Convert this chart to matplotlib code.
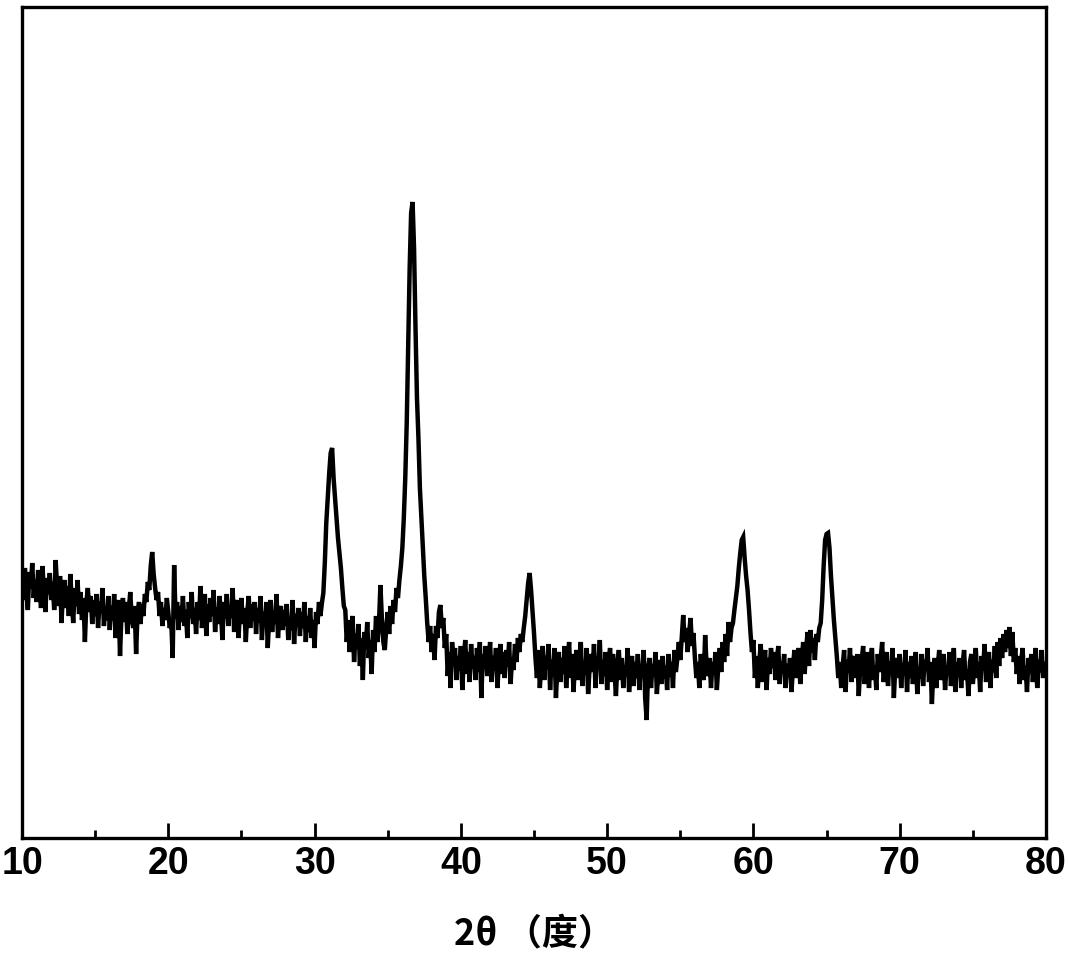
import numpy as np
import matplotlib
matplotlib.use('Agg')
import matplotlib.pyplot as plt
from matplotlib.ticker import MultipleLocator

# XRD pattern, 0.1 degree steps from 10 to 80
two_theta_start = 10.0
two_theta_step = 0.1
intensity = [
    262, 238, 270, 245, 228, 266, 250, 275, 240, 258,   # 10
    236, 268, 252, 230, 272, 246, 226, 260, 244, 265,   # 11
    238, 256, 228, 278, 250, 232, 262, 215, 246, 258,   # 12
    230, 252, 222, 264, 238, 215, 250, 232, 258, 224,   # 13
    246, 218, 240, 196, 236, 250, 226, 242, 214, 238,   # 14
    222, 244, 210, 236, 226, 250, 212, 230, 218, 242,   # 15
    208, 232, 218, 244, 200, 226, 238, 182, 224, 240,   # 16
    216, 236, 204, 228, 246, 220, 210, 232, 184, 226,   # 17
    236, 214, 234, 222, 244, 236, 256, 248, 272, 286,   # 18
    264, 250, 238, 246, 222, 236, 212, 230, 218, 240,   # 19
    226, 210, 218, 180, 273, 220, 236, 208, 232, 216,   # 20
    242, 212, 228, 200, 236, 220, 246, 214, 230, 204,   # 21
    236, 218, 252, 210, 228, 244, 202, 234, 216, 240,   # 22
    222, 248, 206, 230, 214, 242, 226, 198, 236, 220,   # 23
    244, 212, 232, 220, 250, 206, 228, 238, 200, 226,   # 24
    240, 214, 230, 196, 226, 242, 210, 234, 218, 236,   # 25
    204, 230, 216, 242, 198, 226, 212, 236, 190, 222,   # 26
    238, 206, 226, 214, 244, 200, 224, 232, 208, 228,   # 27
    212, 234, 198, 220, 208, 238, 194, 224, 214, 230,   # 28
    202, 226, 210, 236, 196, 222, 206, 230, 200, 218,   # 29
    190, 226, 214, 236, 222, 235, 245, 275, 315, 340,   # 30
    365, 385, 390, 360, 340, 320, 300, 285, 270, 250,   # 31
    232, 228, 196, 218, 186, 210, 222, 176, 204, 190,   # 32
    214, 172, 200, 158, 206, 190, 216, 180, 198, 164,   # 33
    208, 186, 222, 196, 214, 253, 220, 196, 188, 210,   # 34
    226, 204, 232, 214, 238, 226, 250, 240, 258, 272,   # 35
    290, 320, 360, 415, 490, 570, 625, 636, 590, 510,   # 36
    440, 400, 350, 320, 290, 262, 240, 215, 196, 212,   # 37
    186, 204, 178, 212, 200, 226, 233, 210, 220, 190,   # 38
    204, 162, 186, 150, 196, 174, 190, 158, 182, 168,   # 39
    192, 148, 180, 198, 164, 186, 156, 194, 170, 182,   # 40
    158, 190, 166, 196, 140, 184, 170, 192, 162, 178,   # 41
    196, 156, 182, 168, 190, 150, 176, 194, 164, 186,   # 42
    160, 188, 172, 196, 154, 180, 168, 194, 176, 200,   # 43
    186, 204, 196, 210, 222, 238, 255, 265, 248, 226,   # 44
    205, 180, 160, 188, 150, 176, 192, 158, 182, 170,   # 45
    194, 148, 178, 162, 190, 140, 172, 186, 156, 180,   # 46
    164, 192, 150, 178, 196, 160, 184, 146, 174, 188,   # 47
    158, 180, 196, 152, 176, 164, 190, 144, 170, 184,   # 48
    166, 194, 150, 180, 172, 198, 154, 178, 162, 186,   # 49
    148, 176, 190, 156, 184, 168, 142, 174, 188, 158,   # 50
    180, 150, 172, 164, 190, 146, 170, 182, 152, 176,   # 51
    160, 184, 148, 172, 166, 188, 140, 118, 170, 180,   # 52
    150, 174, 162, 186, 144, 168, 178, 154, 182, 160,   # 53
    172, 148, 184, 162, 176, 150, 188, 166, 180, 196,   # 54
    178, 200, 223, 196, 210, 186, 204, 220, 192, 205,   # 55
    180, 160, 176, 150, 184, 168, 158, 203, 172, 162,   # 56
    180, 150, 176, 164, 186, 148, 172, 190, 166, 196,   # 57
    176, 204, 182, 216, 196, 210, 215, 228, 240, 252,   # 58
    270, 285, 298, 301, 280, 262, 248, 228, 205, 186,   # 59
    198, 160, 182, 150, 176, 194, 156, 172, 188, 148,   # 60
    180, 164, 190, 170, 186, 158, 178, 192, 154, 176,   # 61
    166, 184, 150, 174, 162, 180, 146, 170, 188, 160,   # 62
    178, 190, 154, 176, 196, 164, 188, 206, 172, 208,   # 63
    186, 200, 178, 204, 196, 210, 215, 238, 272, 298,   # 64
    304, 305, 290, 262, 240, 218, 200, 182, 160, 176,   # 65
    150, 172, 188, 146, 178, 166, 190, 156, 174, 182,   # 66
    160, 184, 142, 170, 178, 192, 154, 168, 186, 150,   # 67
    176, 190, 158, 172, 148, 184, 166, 180, 196, 156,   # 68
    170, 186, 152, 176, 164, 190, 140, 172, 180, 160,   # 69
    184, 150, 174, 166, 188, 146, 176, 160, 182, 154,   # 70
    172, 186, 144, 170, 160, 184, 152, 178, 168, 190,   # 71
    156, 176, 134, 168, 180, 150, 172, 188, 158, 170,   # 72
    184, 148, 172, 164, 186, 152, 170, 190, 146, 176,   # 73
    162, 180, 150, 174, 188, 158, 168, 142, 176, 184,   # 74
    154, 172, 190, 160, 176, 146, 182, 168, 194, 156,   # 75
    174, 186, 150, 178, 166, 192, 160, 196, 172, 200,   # 76
    180, 204, 186, 208, 190, 211, 182, 206, 176, 190,   # 77
    164, 182, 154, 176, 190, 158, 172, 146, 180, 166,   # 78
    184, 156, 174, 190, 150, 178, 166, 188, 160, 176,   # 79
    170,                                                 # 80
]
two_theta = two_theta_start + two_theta_step * np.arange(len(intensity))

xticks = [10, 20, 30, 40, 50, 60, 70, 80]
xlabel = '2θ （度）'

tick_font = ['Liberation Sans', 'DejaVu Sans']
label_font = ['Noto Sans CJK SC', 'DejaVu Sans']

fig = plt.figure(figsize=(10.68, 9.56), dpi=100)
ax = fig.add_axes([0.0206, 0.1234, 0.9588, 0.8693])

ax.plot(two_theta, intensity, color='black', linewidth=3.2, solid_joinstyle='miter')

ax.set_xlim(10, 80)
ax.set_ylim(0, 831)
ax.set_xticks(xticks)
ax.xaxis.set_minor_locator(MultipleLocator(5))
ax.set_yticks([])
ax.tick_params(axis='x', which='major', direction='in', length=11, width=2, pad=6)
ax.tick_params(axis='x', which='minor', direction='in', length=6, width=2)
for lab in ax.get_xticklabels():
    lab.set_fontfamily(tick_font)
    lab.set_fontweight('bold')
    lab.set_fontsize(27)

for sp in ax.spines.values():
    sp.set_linewidth(2.4)

fig.text(0.5, 0.022, xlabel, ha='center', va='center', fontsize=26,
         fontweight='bold', family=label_font)

fig.savefig('out.png', dpi=100)
